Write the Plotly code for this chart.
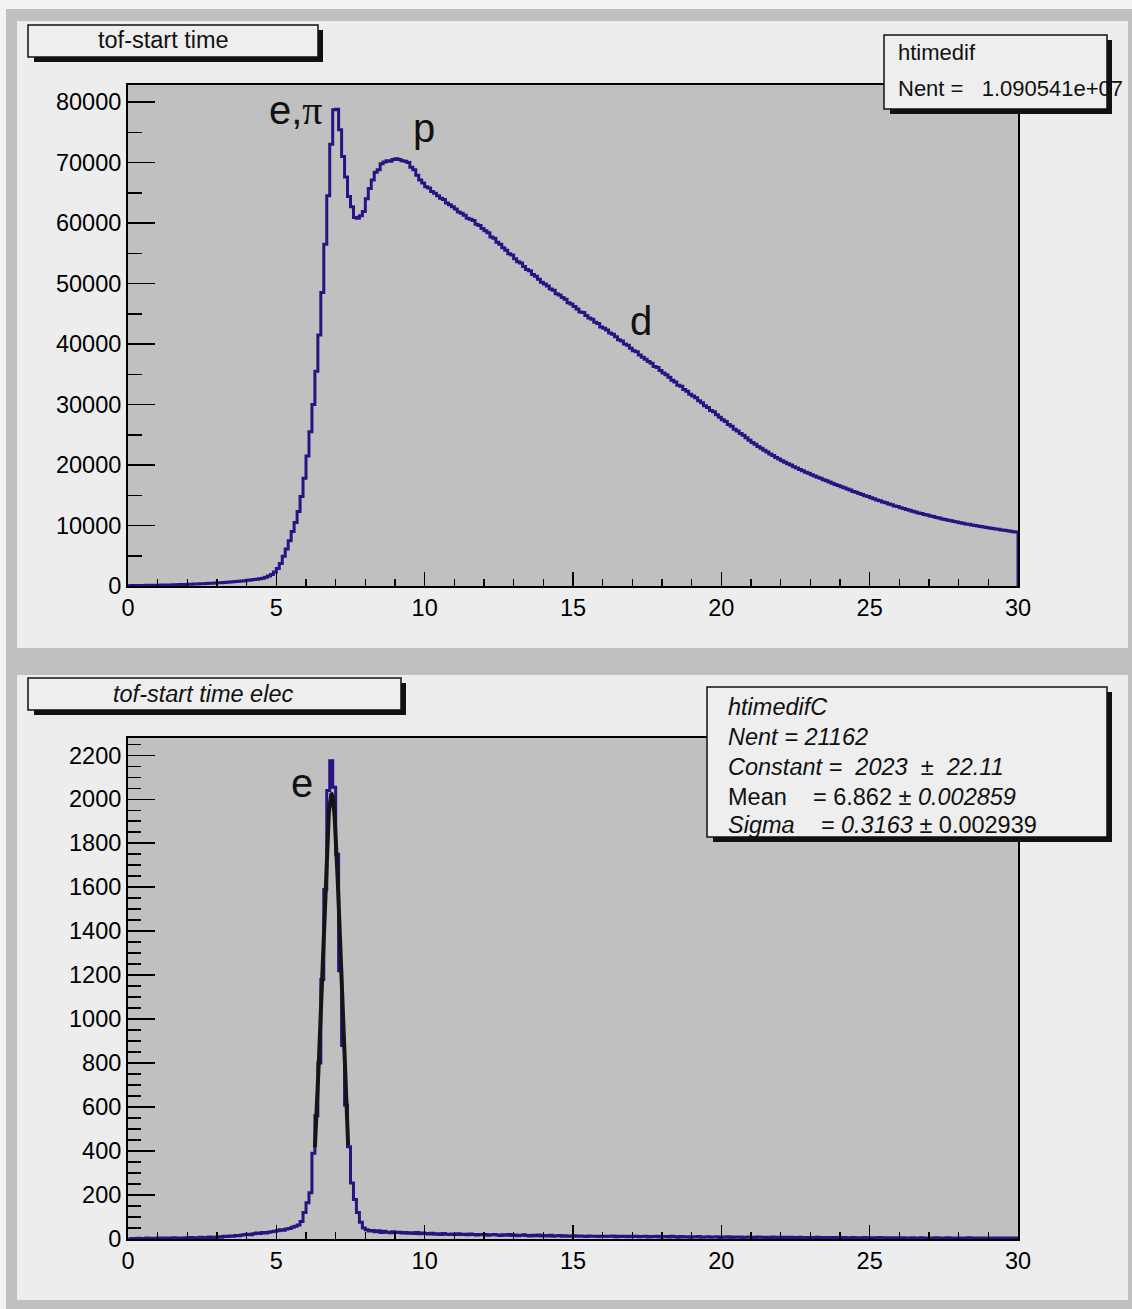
import numpy as np
import plotly.graph_objects as go

W, H = 1132, 1309

# ---------------- data ----------------
x_lo, x_hi, n_bins = 0.0, 30.0, 300

tof_counts = [
    60, 70, 80, 85, 95, 100, 110, 115, 125, 130,
    140, 150, 160, 170, 185, 200, 215, 230, 245, 265,
    285, 300, 320, 345, 365, 390, 410, 440, 465, 495,
    525, 555, 590, 620, 660, 700, 745, 790, 835, 885,
    940, 1000, 1060, 1130, 1210, 1300, 1450, 1650, 1900, 2300,
    2900, 3700, 4900, 6100, 7500, 9000, 10500, 12300, 14800, 17800,
    21500, 25500, 30000, 35500, 41500, 48500, 56500, 64500, 73000, 78700,
    78800, 75400, 71000, 67600, 64400, 62700, 60900, 60800, 61200, 61900,
    64000, 65700, 67100, 68400, 68800, 69800, 70100, 70300, 70200, 70500,
    70600, 70500, 70300, 70200, 70000, 69200, 68800, 67900, 67100, 66600,
    66000, 65800, 65200, 64900, 64500, 64100, 63900, 63300, 63000, 62700,
    62300, 61800, 61600, 61300, 60800, 60600, 60400, 59800, 59600, 59100,
    58700, 58400, 57700, 57500, 56800, 56500, 55900, 55500, 54900, 54700,
    54100, 53600, 53400, 52800, 52300, 52100, 51500, 51200, 50700, 50200,
    49900, 49600, 49100, 48900, 48300, 48100, 47700, 47400, 46800, 46600,
    46200, 45800, 45300, 45200, 44700, 44300, 44100, 43600, 43400, 42800,
    42600, 42300, 41800, 41600, 41200, 40700, 40500, 40000, 39800, 39300,
    38900, 38700, 38200, 37800, 37500, 37100, 36800, 36300, 36100, 35600,
    35200, 34900, 34500, 34000, 33700, 33200, 33000, 32500, 32200, 31700,
    31400, 31100, 30600, 30300, 29800, 29500, 29000, 28800, 28300, 27900,
    27500, 27200, 26700, 26400, 25900, 25600, 25200, 24900, 24500, 24100,
    23700, 23420, 23050, 22780, 22420, 22150, 21820, 21560, 21240, 21000,
    20700, 20470, 20190, 19980, 19700, 19500, 19240, 19050, 18800, 18620,
    18380, 18200, 17970, 17800, 17570, 17400, 17170, 17000, 16780, 16620,
    16400, 16250, 16020, 15870, 15640, 15500, 15280, 15140, 14920, 14780,
    14570, 14440, 14230, 14100, 13890, 13770, 13560, 13440, 13240, 13120,
    12940, 12820, 12640, 12530, 12360, 12250, 12080, 11980, 11820, 11720,
    11560, 11470, 11320, 11230, 11090, 11000, 10870, 10790, 10650, 10580,
    10450, 10380, 10260, 10190, 10080, 10010, 9900, 9840, 9740, 9680,
    9580, 9520, 9420, 9360, 9260, 9210, 9120, 9070, 8980, 8910,
]

elec_counts = [
    0, 2, 0, 3, 1, 2, 4, 2, 3, 2,
    4, 3, 5, 2, 4, 6, 3, 5, 4, 6,
    5, 7, 4, 6, 8, 5, 7, 9, 6, 8,
    10, 8, 12, 11, 14, 13, 16, 15, 18, 20,
    22, 19, 24, 27, 25, 29, 27, 31, 33, 35,
    38, 42, 40, 46, 48, 54, 58, 64, 80, 120,
    165, 210, 390, 560, 800, 1180, 1590, 2040, 2175, 2055,
    1750, 1220, 880, 610, 420, 255, 180, 120, 76, 50,
    42, 36, 39, 33, 37, 30, 35, 31, 28, 33,
    29, 31, 27, 30, 26, 28, 25, 29, 24, 27,
    25, 23, 26, 22, 24, 21, 25, 22, 20, 23,
    21, 24, 20, 22, 19, 23, 20, 18, 21, 19,
    20, 17, 19, 21, 18, 16, 19, 17, 20, 16,
    18, 15, 17, 19, 16, 14, 17, 15, 18, 14,
    16, 14, 17, 13, 15, 16, 12, 15, 13, 14,
    15, 12, 14, 13, 11, 14, 12, 13, 11, 12,
    13, 11, 12, 14, 10, 12, 11, 13, 10, 12,
    11, 12, 10, 11, 13, 9, 11, 10, 12, 9,
    10, 11, 9, 12, 10, 8, 11, 9, 10, 8,
    10, 9, 11, 8, 9, 10, 8, 9, 10, 7,
    9, 8, 10, 7, 9, 8, 9, 7, 8, 9,
    8, 7, 9, 8, 6, 8, 7, 9, 7, 8,
    7, 8, 6, 8, 7, 6, 8, 7, 6, 7,
    7, 6, 8, 6, 7, 5, 7, 6, 7, 5,
    6, 7, 5, 6, 7, 5, 6, 5, 7, 6,
    6, 5, 6, 7, 5, 6, 4, 6, 5, 6,
    5, 6, 4, 5, 6, 5, 4, 6, 5, 4,
    5, 4, 6, 5, 4, 5, 6, 4, 5, 4,
    4, 5, 4, 6, 4, 5, 3, 5, 4, 5,
    4, 5, 3, 4, 5, 4, 3, 5, 4, 4,
]

# Gaussian fit parameters (from the stats box)
FIT_CONSTANT = 2023.0
FIT_MEAN = 6.862
FIT_SIGMA = 0.3163
FIT_RANGE = (6.30, 7.42)

NB = "\u00a0"
top_title = "tof-start time"
bot_title = "tof-start time elec"
top_stats = ["htimedif", "Nent =" + NB * 3 + "1.090541e+07"]
bot_stats = [
    "<i>htimedifC</i>",
    "<i>Nent = 21162</i>",
    "<i>Constant =" + NB * 2 + "2023" + NB * 2 + "</i>\u00b1" + NB * 2 + "<i>22.11</i>",
    "Mean" + NB * 4 + "= 6.862 \u00b1 <i>0.002859</i>",
    "<i>Sigma" + NB * 4 + "= 0.3163</i> \u00b1 0.002939",
]
peak_labels_top = [("e,<span style='font-family:Liberation Serif'>\u03c0</span>", 296, 110),
                   ("p", 424, 128), ("d", 641, 321)]
peak_labels_bot = [("e", 302, 783)]

# ---------------- styling ----------------
FONT = "Liberation Sans, Arial, sans-serif"
LINE_C = "#2a1283"
CANVAS = "#c0c0c0"
PAD = "#ededed"
PLOT_BG = "#c0c0c0"


def X(p):
    return p / W


def Y(p):
    return 1 - p / H


edges = np.linspace(x_lo, x_hi, n_bins + 1)


def step_xy(counts):
    xs = [x_lo] + list(edges[:-1]) + [x_hi, x_hi]
    ys = [0] + list(counts) + [counts[-1], 0]
    return xs, ys


fig = go.Figure()

xs, ys = step_xy(tof_counts)
fig.add_trace(go.Scatter(x=xs, y=ys, mode="lines", line=dict(color=LINE_C, width=3, shape="hv"),
                         xaxis="x", yaxis="y", showlegend=False, hoverinfo="skip"))
xs, ys = step_xy(elec_counts)
fig.add_trace(go.Scatter(x=xs, y=ys, mode="lines", line=dict(color=LINE_C, width=3, shape="hv"),
                         xaxis="x2", yaxis="y2", showlegend=False, hoverinfo="skip"))
fx = np.linspace(FIT_RANGE[0], FIT_RANGE[1], 120)
fy = FIT_CONSTANT * np.exp(-0.5 * ((fx - FIT_MEAN) / FIT_SIGMA) ** 2)
fig.add_trace(go.Scatter(x=fx, y=fy, mode="lines", line=dict(color="#151515", width=4),
                         xaxis="x2", yaxis="y2", showlegend=False, hoverinfo="skip"))

x_dom = [X(128), X(1018)]
top_dom = [Y(586), Y(85)]
bot_dom = [Y(1239), Y(738)]

common = dict(showline=True, linecolor="black", linewidth=2, mirror=True, ticks="inside",
              tickcolor="black", tickwidth=1.5, showgrid=False, zeroline=False, automargin=False,
              tickfont=dict(family=FONT, size=23.5, color="black"), fixedrange=True)

xax = dict(common, range=[x_lo, x_hi], tick0=0, dtick=5, ticklen=14,
           minor=dict(dtick=1, ticklen=7, ticks="inside", tickcolor="black", showgrid=False))

fig.update_layout(
    width=W, height=H, autosize=False,
    margin=dict(l=0, r=0, t=0, b=0, pad=0, autoexpand=False),
    paper_bgcolor=CANVAS, plot_bgcolor="rgba(0,0,0,0)",
    xaxis=dict(xax, domain=x_dom, anchor="y"),
    yaxis=dict(common, domain=top_dom, anchor="x", range=[0, 82810], tick0=0, dtick=10000,
               ticklen=27, tickformat="d",
               minor=dict(dtick=5000, ticklen=14, ticks="inside", tickcolor="black", showgrid=False)),
    xaxis2=dict(xax, domain=x_dom, anchor="y2"),
    yaxis2=dict(common, domain=bot_dom, anchor="x2", range=[0, 2278.6], tick0=0, dtick=200,
                ticklen=27, tickformat="d",
                minor=dict(dtick=50, ticklen=13, ticks="inside", tickcolor="black", showgrid=False)),
)

shapes = []


def rect(x0, y0, x1, y1, fill, line=None, lw=0, layer="below"):
    shapes.append(dict(type="rect", xref="paper", yref="paper", x0=X(x0), x1=X(x1), y0=Y(y1), y1=Y(y0),
                       fillcolor=fill, line=dict(color=line or fill, width=lw), layer=layer))


# canvas edges and pads
rect(0, 0, W, 9, "#f2f2f2")
rect(0, 0, 6, H, "#f2f2f2")
rect(17, 21, 1128, 648, PAD)
rect(17, 675, 1128, 1300, PAD)
rect(128, 85, 1018, 586, PLOT_BG)
rect(128, 738, 1018, 1239, PLOT_BG)


def boxed(x0, y0, x1, y1):
    rect(x0 + 6, y0 + 5, x1 + 5, y1 + 5, "#111111", layer="above")
    rect(x0, y0, x1, y1, "#eeeeee", line="#111111", lw=1.5, layer="above")


boxed(28, 25, 318, 57)
boxed(28, 678, 401, 710)
boxed(884, 35, 1107, 109)
boxed(707, 687, 1107, 837)

fig.update_layout(shapes=shapes)

ann = []


def text(t, x, y, size=23, xanchor="center"):
    ann.append(dict(text=t, x=X(x), y=Y(y), xref="paper", yref="paper", showarrow=False,
                    xanchor=xanchor, yanchor="middle", font=dict(family=FONT, size=size, color="#111111")))


text(top_title, 163, 40, size=23.5)
text("<i>" + bot_title + "</i>", 203, 694, size=23.5)
text(top_stats[0], 896, 52, size=22, xanchor="left")
text(top_stats[1], 896, 89, size=22, xanchor="left")
for i, s in enumerate(bot_stats):
    text(s, 726, [707, 737, 767, 797, 825][i], size=23.5, xanchor="left")
for t, x, y in peak_labels_top + peak_labels_bot:
    text(t, x, y, size=40)

fig.update_layout(annotations=ann)

fig.write_html("out.html",
               config={"displayModeBar": False, "responsive": False, "staticPlot": True},
               post_script="document.body.style.margin='0';document.body.style.overflow='hidden';")
